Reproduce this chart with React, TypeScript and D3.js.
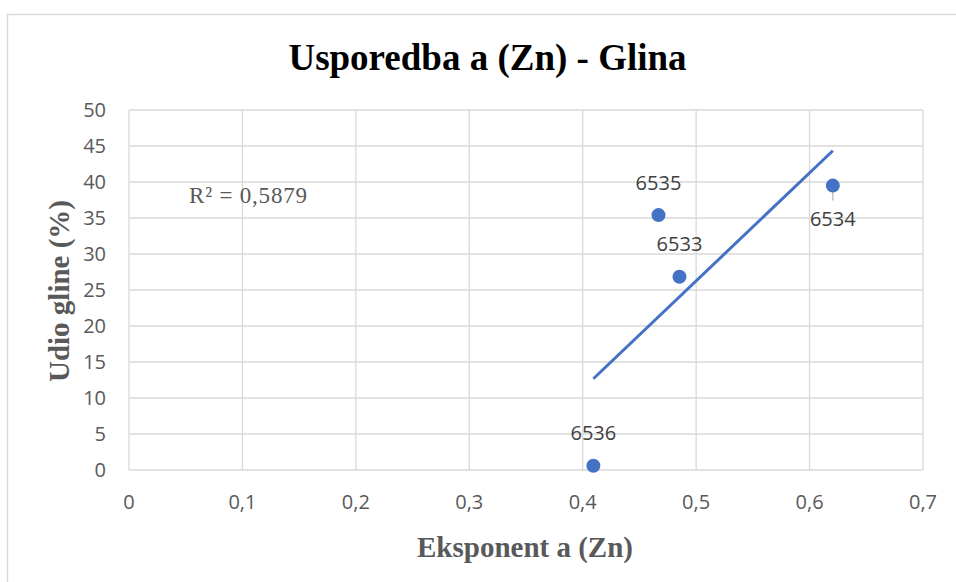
import React from "react";
import * as d3 from "d3";

const sampleIds = ["6533", "6534", "6535", "6536"];
const exponentA = [0.4853, 0.6205, 0.4668, 0.4094];
const clayShare = [26.85, 39.5, 35.4, 0.6];
const labelBelow = [false, true, false, false];
const xTicks = [0, 0.1, 0.2, 0.3, 0.4, 0.5, 0.6, 0.7];
const yTicks = [0, 5, 10, 15, 20, 25, 30, 35, 40, 45, 50];
const titleText = "Usporedba a (Zn) - Glina";
const xTitle = "Eksponent a (Zn)";
const yTitle = "Udio gline (%)";
const r2Text = "R² = 0,5879";

const W = 956, H = 582;
const plot = { left: 129, right: 923, top: 110, bottom: 470 };
const blue = "#4472C4";
const grid = "#D9D9D9";
const grey = "#595959";
const sans = "'Open Sans', 'Noto Sans', sans-serif";
const serif = "'Liberation Serif', 'Times New Roman', serif";

export default function App() {
  const x = d3.scaleLinear().domain([0, 0.7]).range([plot.left, plot.right]);
  const y = d3.scaleLinear().domain([0, 50]).range([plot.bottom, plot.top]);
  const fmt = (v: number) => String(v).replace(".", ",");

  const n = exponentA.length;
  const mx = d3.mean(exponentA)!;
  const my = d3.mean(clayShare)!;
  let sxy = 0, sxx = 0;
  for (let i = 0; i < n; i++) {
    sxy += (exponentA[i] - mx) * (clayShare[i] - my);
    sxx += (exponentA[i] - mx) ** 2;
  }
  const slope = sxy / sxx;
  const icpt = my - slope * mx;
  const x0 = d3.min(exponentA)!;
  const x1 = d3.max(exponentA)!;
  const trend = d3.line<number>().x((v) => x(v)).y((v) => y(slope * v + icpt));

  return (
    <svg width={W} height={H} style={{ position: "absolute", left: 0, top: 0, background: "#fff" }}>
      <rect x={7.5} y={14.5} width={W + 20} height={H + 20} fill="#fff" stroke={grid} strokeWidth={1.5} />
      <text x={487.5} y={70} textAnchor="middle" fontFamily={serif} fontWeight="bold" fontSize={37} fill="#000">
        {titleText}
      </text>
      {yTicks.map((t) => (
        <line key={"gy" + t} x1={plot.left} x2={plot.right} y1={y(t)} y2={y(t)} stroke={grid} strokeWidth={1.3} />
      ))}
      {xTicks.map((t) => (
        <line key={"gx" + t} x1={x(t)} x2={x(t)} y1={plot.top} y2={plot.bottom} stroke={grid} strokeWidth={1.3} />
      ))}
      {yTicks.map((t) => (
        <text key={"ty" + t} x={106} y={y(t)} dy="0.35em" textAnchor="end" fontFamily={sans} fontSize={20} fill={grey}>
          {fmt(t)}
        </text>
      ))}
      {xTicks.map((t) => (
        <text key={"tx" + t} x={x(t)} y={502} dy="0.35em" textAnchor="middle" fontFamily={sans} fontSize={20} fill={grey}>
          {fmt(t)}
        </text>
      ))}
      <text x={525} y={557} textAnchor="middle" fontFamily={serif} fontWeight="bold" fontSize={29} fill={grey}>
        {xTitle}
      </text>
      <text
        transform={`translate(69,291) rotate(-90)`}
        textAnchor="middle"
        fontFamily={serif}
        fontWeight="bold"
        fontSize={29}
        fill={grey}
      >
        {yTitle}
      </text>
      <path d={trend([x0, x1]) || ""} stroke={blue} strokeWidth={3} fill="none" />
      {exponentA.map((v, i) =>
        labelBelow[i] ? (
          <line key={"ll" + i} x1={x(v)} x2={x(v)} y1={y(clayShare[i])} y2={y(clayShare[i]) + 15} stroke="#A6A6A6" strokeWidth={1} />
        ) : null
      )}
      {exponentA.map((v, i) => (
        <circle key={"p" + i} cx={x(v)} cy={y(clayShare[i])} r={7} fill={blue} />
      ))}
      {exponentA.map((v, i) => (
        <text
          key={"l" + i}
          x={x(v)}
          y={y(clayShare[i]) + (labelBelow[i] ? 33.5 : -32.5)}
          dy="0.35em"
          textAnchor="middle"
          fontFamily={sans}
          fontSize={20}
          fill="#404040"
        >
          {sampleIds[i]}
        </text>
      ))}
      <text x={189} y={203} fontFamily={serif} fontSize={23} fill={grey} textLength={118} lengthAdjust="spacing">
        {r2Text}
      </text>
    </svg>
  );
}
